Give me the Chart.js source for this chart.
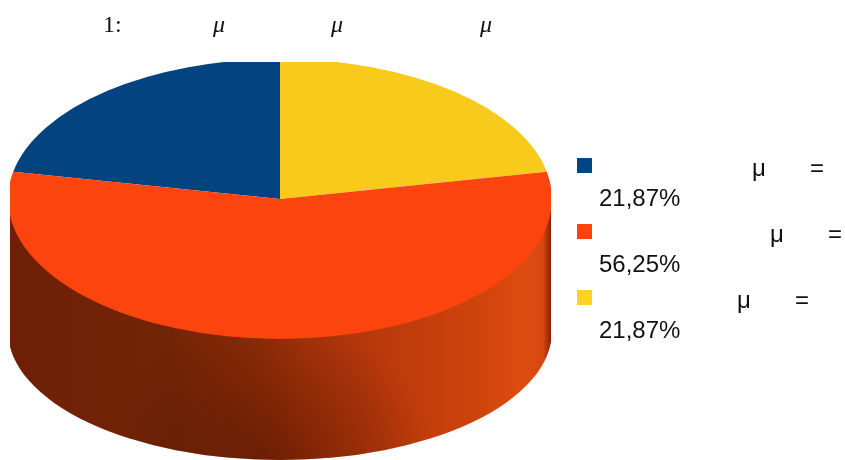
<!doctype html>
<html>

<head>
	<title>3D pie</title>
	<script src="https://cdn.jsdelivr.net/npm/chart.js@4"></script>
	<style>
		html, body { margin: 0; padding: 0; background: #fff; overflow: hidden; }
		#canvas-holder { position: relative; width: 845px; height: 460px; }
		#canvas-holder span { position: absolute; white-space: pre; line-height: 1; color: #111; }
		#chart-area { filter: blur(0.5px); }
		.title { font-family: "Liberation Serif", serif; font-size: 24px; filter: blur(0.3px); }
		.legend { font-family: "Liberation Sans", sans-serif; font-size: 24px; filter: blur(0.3px); }
		.swatch { width: 15px; height: 15px; }
	</style>
</head>

<body>
	<div id="canvas-holder">
		<canvas id="chart-area" width="845" height="460"></canvas>
	</div>

	<script>
		// slices in clockwise order, starting at the blue one
		const sliceValues = [21.87, 21.87, 56.25];
		const sliceColors = ['#03437f', '#f8ca1c', '#fc440f'];

		// legend runs blue, orange, yellow
		const legendValues = ['21,87%', '56,25%', '21,87%'];
		const legendColors = ['#004586', '#ff420e', '#ffd320'];
		const legendSymbol = 'μ';
		const legendEquals = '=';
		const titleNumber = '1:';
		const titleSymbol = 'μ';

		// layout
		const pie = { cx: 280, cy: 199, rx: 272, ry: 140, left: 10, right: 551, top: 62, bottom: 460 };
		const wall = { cy: 331, ry: 129 };
		const legendSymbolX = [752, 770, 737];
		const legendEqualsX = [810, 828, 795];
		const titleSymbolX = [213, 331, 480];

		function addText(cls, text, x, baseline, size, italic) {
			const el = document.createElement('span');
			el.className = cls;
			el.textContent = text;
			el.style.left = x + 'px';
			el.style.top = (baseline - size * 0.86) + 'px';
			if (italic) {
				el.style.fontStyle = 'italic';
			}
			document.getElementById('canvas-holder').appendChild(el);
		}

		function drawLegend() {
			legendValues.forEach((value, i) => {
				const y = 158 + i * 66;
				const box = document.createElement('span');
				box.className = 'swatch';
				box.style.left = '577px';
				box.style.top = y + 'px';
				box.style.background = legendColors[i];
				document.getElementById('canvas-holder').appendChild(box);
				addText('legend', legendSymbol, legendSymbolX[i], y + 19, 24);
				addText('legend', legendEquals, legendEqualsX[i], y + 19, 24);
				addText('legend', value, 599, y + 49, 24);
			});
			addText('title', titleNumber, 103, 33, 24);
			titleSymbolX.forEach((x) => addText('title', titleSymbol, x, 33, 24, true));
		}

		// side of the cylinder under the pie, and squash of the round pie into an ellipse
		const pie3d = {
			id: 'pie3d',
			beforeDatasetsDraw(chart) {
				const ctx = chart.ctx;
				const arc = chart.getDatasetMeta(0).data[0];
				ctx.save();
				ctx.beginPath();
				ctx.rect(pie.left, pie.top, pie.right - pie.left, pie.bottom - pie.top);
				ctx.clip();

				ctx.beginPath();
				ctx.moveTo(pie.cx - pie.rx, pie.cy);
				ctx.lineTo(pie.cx - pie.rx, wall.cy);
				ctx.ellipse(pie.cx, wall.cy, pie.rx, wall.ry, 0, Math.PI, 0, true);
				ctx.lineTo(pie.cx + pie.rx, pie.cy);
				ctx.closePath();
				const side = ctx.createLinearGradient(pie.left, 0, pie.right, 0);
				side.addColorStop(0, '#6e2005');
				side.addColorStop(0.3, '#742406');
				side.addColorStop(0.45, '#8e2d08');
				side.addColorStop(0.55, '#a8340a');
				side.addColorStop(0.7, '#bd3a0b');
				side.addColorStop(0.85, '#cc420c');
				side.addColorStop(0.95, '#de4c0f');
				side.addColorStop(0.985, '#d8480f');
				side.addColorStop(1, '#8c1e04');
				ctx.fillStyle = side;
				ctx.fill();
				const shade = ctx.createRadialGradient(270, 480, 20, 270, 480, 170);
				shade.addColorStop(0, 'rgba(70,15,0,0.5)');
				shade.addColorStop(1, 'rgba(70,15,0,0)');
				ctx.fillStyle = shade;
				ctx.fill();

				ctx.translate(pie.cx, pie.cy);
				ctx.scale(pie.rx / arc.outerRadius, pie.ry / arc.outerRadius);
				ctx.translate(-arc.x, -arc.y);
			},
			afterDatasetsDraw(chart) {
				chart.ctx.restore();
			}
		};

		const ctx2d = document.getElementById('chart-area').getContext('2d');
		window.myPie = new Chart(ctx2d, {
			type: 'pie',
			plugins: [pie3d],
			data: {
				datasets: [{
					data: sliceValues,
					backgroundColor: sliceColors,
					borderWidth: 0
				}]
			},
			options: {
				responsive: false,
				animation: false,
				rotation: -sliceValues[0] * 3.6,
				plugins: {
					legend: { display: false },
					tooltip: { enabled: false }
				}
			}
		});
		drawLegend();
	</script>
</body>
</html>
